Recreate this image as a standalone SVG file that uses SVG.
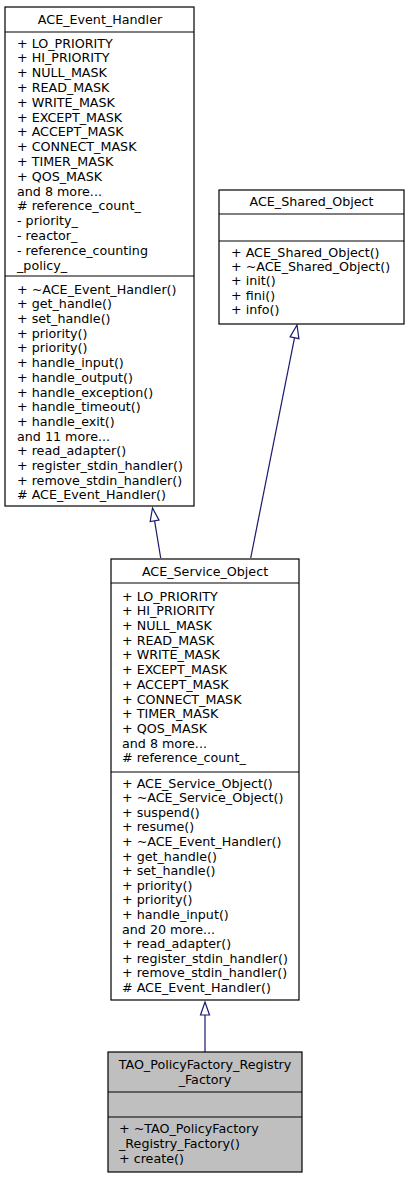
<svg xmlns="http://www.w3.org/2000/svg" width="409" height="1179" viewBox="0 0 409 1179">
<style>
text{font-family:"DejaVu Sans","Liberation Sans",sans-serif;font-size:12.7px;fill:#000}
.c{text-anchor:middle}
.box{fill:#fff;stroke:#000;stroke-width:1.2}
.gray{fill:#bfbfbf;stroke:#000;stroke-width:1.2}
.sep{stroke:#000;stroke-width:1.2}
.edge{stroke:#191970;stroke-width:1.2;fill:none}
.head{fill:#fff;stroke:#191970;stroke-width:1.2}
</style>
<rect width="409" height="1179" fill="#fff"/>
<g id="connectors">
<path class="edge" d="M154.6,520.8 L160.7,558"/>
<polygon class="head" points="152.5,508 159,520.1 150.2,521.5"/>
<path class="edge" d="M294.5,337.8 L250.7,558"/>
<polygon class="head" points="297,325 298.9,338.7 290.1,336.9"/>
<path class="edge" d="M205,1015 L205,1052"/>
<polygon class="head" points="205,1002 209.5,1015 200.5,1015"/>
</g>
<g id="ACE_Event_Handler">
<rect class="box" x="5" y="7" width="189" height="499"/>
<line class="sep" x1="5" y1="32" x2="194" y2="32"/>
<line class="sep" x1="5" y1="276" x2="194" y2="276"/>
<text class="c" x="100" y="24">ACE_Event_Handler</text>
<text x="17" y="47.6">+ LO_PRIORITY</text>
<text x="17" y="62.4">+ HI_PRIORITY</text>
<text x="17" y="77.2">+ NULL_MASK</text>
<text x="17" y="92">+ READ_MASK</text>
<text x="17" y="106.8">+ WRITE_MASK</text>
<text x="17" y="121.6">+ EXCEPT_MASK</text>
<text x="17" y="136.4">+ ACCEPT_MASK</text>
<text x="17" y="151.2">+ CONNECT_MASK</text>
<text x="17" y="166">+ TIMER_MASK</text>
<text x="17" y="180.8">+ QOS_MASK</text>
<text x="17" y="195.6">and 8 more...</text>
<text x="17" y="210.4"># reference_count_</text>
<text x="17" y="225.2">- priority_</text>
<text x="17" y="240">- reactor_</text>
<text x="17" y="254.8">- reference_counting</text>
<text x="17" y="269.6">_policy_</text>
<text x="17" y="293.6">+ ~ACE_Event_Handler()</text>
<text x="17" y="308.3">+ get_handle()</text>
<text x="17" y="323">+ set_handle()</text>
<text x="17" y="337.7">+ priority()</text>
<text x="17" y="352.4">+ priority()</text>
<text x="17" y="367.1">+ handle_input()</text>
<text x="17" y="381.8">+ handle_output()</text>
<text x="17" y="396.5">+ handle_exception()</text>
<text x="17" y="411.2">+ handle_timeout()</text>
<text x="17" y="425.9">+ handle_exit()</text>
<text x="17" y="440.6">and 11 more...</text>
<text x="17" y="455.3">+ read_adapter()</text>
<text x="17" y="470">+ register_stdin_handler()</text>
<text x="17" y="484.7">+ remove_stdin_handler()</text>
<text x="17" y="499.4"># ACE_Event_Handler()</text>
</g>
<g id="ACE_Shared_Object">
<rect class="box" x="219" y="190" width="185" height="134"/>
<line class="sep" x1="219" y1="214" x2="404" y2="214"/>
<line class="sep" x1="219" y1="241" x2="404" y2="241"/>
<text class="c" x="311.5" y="205.6">ACE_Shared_Object</text>
<text x="231" y="256.6">+ ACE_Shared_Object()</text>
<text x="231" y="271">+ ~ACE_Shared_Object()</text>
<text x="231" y="285.4">+ init()</text>
<text x="231" y="299.8">+ fini()</text>
<text x="231" y="314.2">+ info()</text>
</g>
<g id="ACE_Service_Object">
<rect class="box" x="111" y="559" width="188" height="441"/>
<line class="sep" x1="111" y1="583" x2="299" y2="583"/>
<line class="sep" x1="111" y1="772" x2="299" y2="772"/>
<text class="c" x="205" y="575.6">ACE_Service_Object</text>
<text x="122" y="600.6">+ LO_PRIORITY</text>
<text x="122" y="615.3">+ HI_PRIORITY</text>
<text x="122" y="630">+ NULL_MASK</text>
<text x="122" y="644.7">+ READ_MASK</text>
<text x="122" y="659.4">+ WRITE_MASK</text>
<text x="122" y="674.1">+ EXCEPT_MASK</text>
<text x="122" y="688.8">+ ACCEPT_MASK</text>
<text x="122" y="703.5">+ CONNECT_MASK</text>
<text x="122" y="718.2">+ TIMER_MASK</text>
<text x="122" y="732.9">+ QOS_MASK</text>
<text x="122" y="747.6">and 8 more...</text>
<text x="122" y="762.3"># reference_count_</text>
<text x="122" y="787.6">+ ACE_Service_Object()</text>
<text x="122" y="802.2">+ ~ACE_Service_Object()</text>
<text x="122" y="816.8">+ suspend()</text>
<text x="122" y="831.4">+ resume()</text>
<text x="122" y="846">+ ~ACE_Event_Handler()</text>
<text x="122" y="860.6">+ get_handle()</text>
<text x="122" y="875.2">+ set_handle()</text>
<text x="122" y="889.8">+ priority()</text>
<text x="122" y="904.4">+ priority()</text>
<text x="122" y="919">+ handle_input()</text>
<text x="122" y="933.6">and 20 more...</text>
<text x="122" y="948.2">+ read_adapter()</text>
<text x="122" y="962.8">+ register_stdin_handler()</text>
<text x="122" y="977.4">+ remove_stdin_handler()</text>
<text x="122" y="992"># ACE_Event_Handler()</text>
</g>
<g id="TAO_PolicyFactory_Registry_Factory">
<rect class="gray" x="108" y="1052" width="194" height="120"/>
<line class="sep" x1="108" y1="1092" x2="302" y2="1092"/>
<line class="sep" x1="108" y1="1117" x2="302" y2="1117"/>
<text class="c" x="205" y="1068.6">TAO_PolicyFactory_Registry</text>
<text class="c" x="205" y="1083.6">_Factory</text>
<text x="119" y="1133.2">+ ~TAO_PolicyFactory</text>
<text x="119" y="1148">_Registry_Factory()</text>
<text x="119" y="1162.6">+ create()</text>
</g>
</svg>
